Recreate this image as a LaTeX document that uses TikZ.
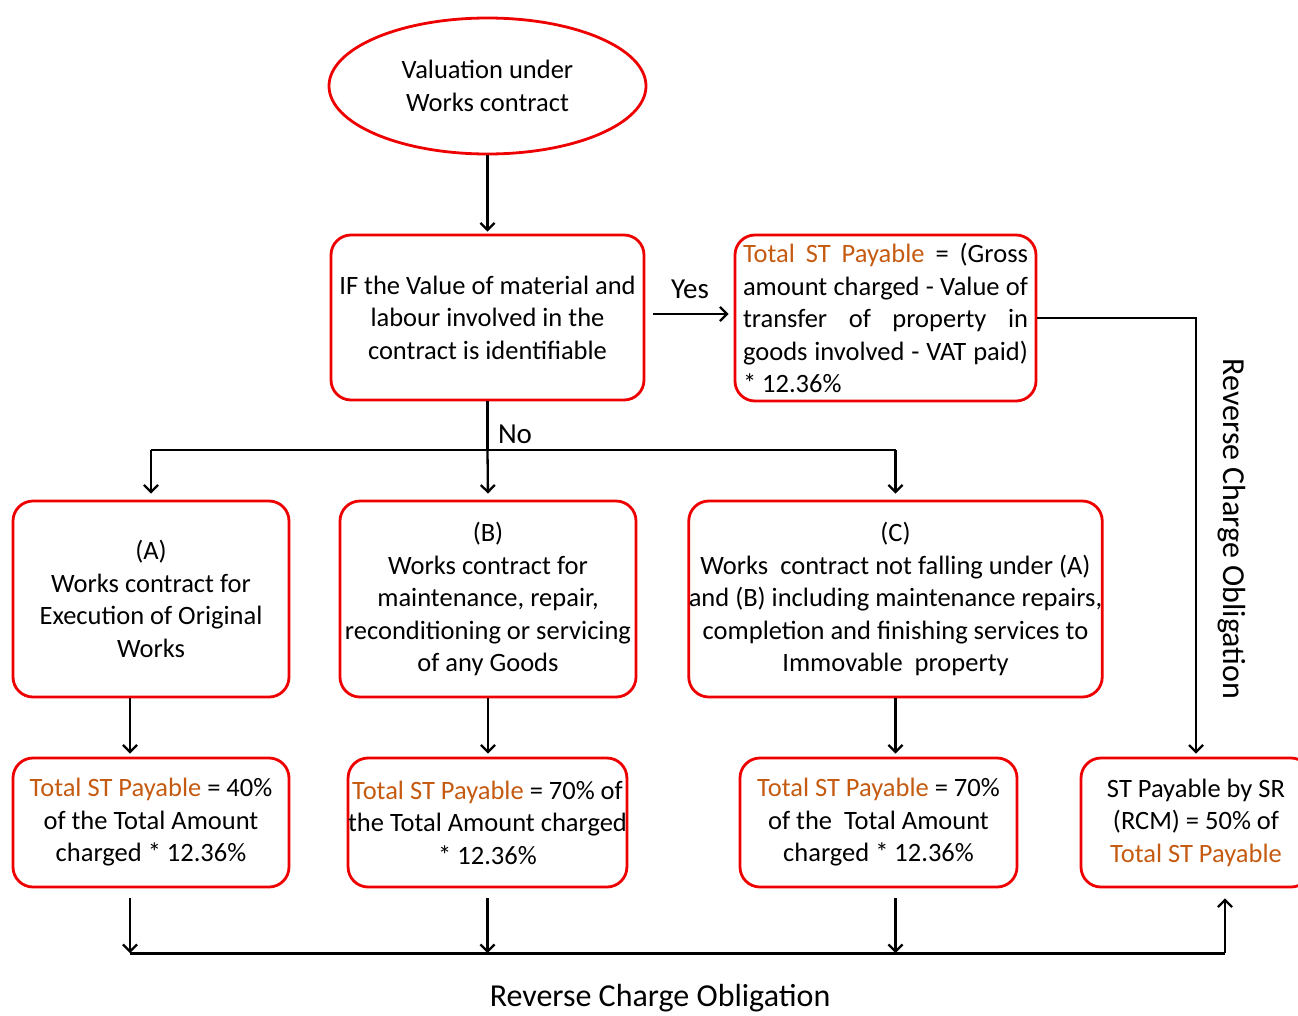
\documentclass[tikz,border=0pt]{standalone}
\usepackage{fontspec}
\setmainfont{Carlito}
\usetikzlibrary{arrows.meta,shapes.geometric}
\definecolor{boxred}{RGB}{238,0,0}
\definecolor{orng}{RGB}{197,90,17}
\newcommand{\tsp}{\textcolor{orng}{Total ST Payable}}
\begin{document}
\begin{tikzpicture}[x=1pt,y=-1pt,
  box/.style={draw=boxred, line width=2.8pt, rounded corners=20pt, align=center,
    font=\fontsize{26.5}{32.5}\selectfont, inner sep=0pt},
  lbl/.style={font=\fontsize{29}{34}\selectfont, inner sep=0pt},
  big/.style={font=\fontsize{32}{38}\selectfont, inner sep=0pt},
  arr/.style={line width=2.3pt, -{Straight Barb[length=7pt,width=14pt,line width=2.3pt]}},
  ln/.style={line width=2.3pt}]
\useasboundingbox (0,0) rectangle (1298,1015);

\node[ellipse, draw=boxred, line width=2.8pt, minimum width=317pt, minimum height=136pt,
  align=center, font=\fontsize{26.5}{32.5}\selectfont, inner sep=0pt] (val) at (487.5,86)
  {Valuation under\\Works contract};

\node[box, minimum width=313pt, minimum height=165pt] (if) at (487.5,317.5)
  {IF the Value of material and\\labour involved in the\\contract is identifiable};

\node[box, minimum width=301pt, minimum height=166pt, align=left] (tr) at (885.5,318)
  {\makebox[285pt][s]{\tsp{} = (Gross}\\
   \makebox[285pt][s]{amount charged - Value of}\\
   \makebox[285pt][s]{transfer of property in}\\
   \makebox[285pt][s]{goods involved - VAT paid)}\\
   * 12.36\%};

\node[box, minimum width=276pt, minimum height=196pt] (a) at (151,599)
  {(A)\\Works contract for\\Execution of Original\\Works};
\node[box, minimum width=296pt, minimum height=196pt] (b) at (488,599)
  {(B)\\Works contract for\\maintenance, repair,\\reconditioning or servicing\\of any Goods};
\node[box, minimum width=413pt, minimum height=196pt] (c) at (895.5,599)
  {(C)\\Works\ \ contract not falling under (A)\\and (B) including maintenance repairs,\\completion and finishing services to\\Immovable\ \ property};

\node[box, minimum width=276pt, minimum height=129pt] (la) at (151,822.5)
  {\tsp{} = 40\%\\of the Total Amount\\charged * 12.36\%};
\node[box, minimum width=277pt, minimum height=129pt] (lb) at (487.5,822.5)
  {\tsp{} = 70\% of\\the Total Amount charged\\* 12.36\%};
\node[box, minimum width=277pt, minimum height=129pt] (lc) at (878.5,822.5)
  {\tsp{} = 70\%\\of the\ \ Total Amount\\charged * 12.36\%};
\node[box, minimum width=230pt, minimum height=129pt] (ld) at (1196,822.5)
  {ST Payable by SR\\(RCM) = 50\% of\\\tsp};

\node[lbl] (yes) at (690,289) {Yes};
\node[lbl] (no) at (515,434) {No};
\node[big, rotate=-90] (rco1) at (1232,529) {Reverse Charge Obligation};
\node[big] (rco2) at (660,998) {Reverse Charge Obligation};

% connectors
\draw[arr, shorten >=2pt] (val.south) -- (if.north);
\draw[arr, shorten <=8pt, shorten >=5pt] (if.east |- 0,314) -- (tr.west |- 0,314);
\draw[arr, shorten >=3pt] (tr.east) -| (ld.north);

\coordinate (nb) at (487.5,450);
\coordinate (na) at (151,450);
\coordinate (nc) at (895.5,450);
\draw[ln] (if.south) -- (nb);
\draw[ln] (na) -- (nc);
\draw[arr, shorten >=6pt] (na) -- (a.north);
\draw[arr, shorten >=6pt] (nb) -- (b.north);
\draw[arr, shorten >=6pt] (nc) -- (c.north);

\draw[arr, shorten >=3pt] ([xshift=-21pt]a.south) -- ([xshift=-21pt]la.north);
\draw[arr, shorten >=3pt] (b.south) -- (b.south |- lb.north);
\draw[arr, shorten >=3pt] (c.south) -- (c.south |- lc.north);

\coordinate (b1) at (130,953);
\coordinate (b2) at (487.5,953);
\coordinate (b3) at (895.5,953);
\coordinate (b4) at (1225,953);
\draw[arr, shorten <=10pt] ([xshift=-21pt]la.south) -- (b1);
\draw[arr, shorten <=10pt] (lb.south) -- (b2);
\draw[arr, shorten <=10pt] (lc.south -| b3) -- (b3);
\draw[line width=3pt] (b1) -- (b4);
\draw[arr, shorten >=10pt] (b4) -- (b4 |- ld.south);
\end{tikzpicture}
\end{document}
